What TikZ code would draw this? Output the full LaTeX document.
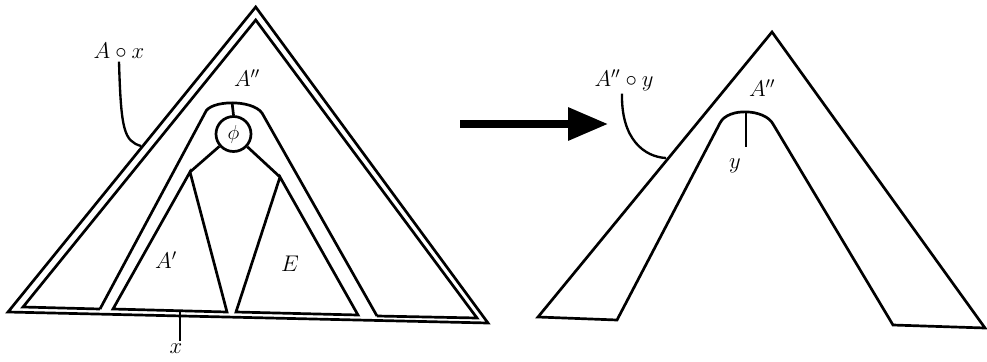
\documentclass[tikz,border=0pt]{standalone}
\usetikzlibrary{arrows.meta}

\begin{document}
\begin{tikzpicture}[
    x=0.03cm, y=-0.03cm,
    line width=2.3pt,
    lbl/.style={font=\LARGE, scale=1.12, inner sep=1pt},
    phinode/.style={draw, circle, minimum size=1.05cm, inner sep=0pt,
                    font=\LARGE},
    leader/.style={line width=2pt}
  ]
  \useasboundingbox (0,0) rectangle (987,361);

  % left tree: A o x
  \draw (8,312) -- (255.7,7) -- (488,323) -- cycle;
  \draw (100,309) -- (23,307) -- (255.7,20) -- (477,318) -- (377,316);
  \draw (100,309) -- (205,113) .. controls (209,100) and (252,99) .. (262,113)
    -- (377,316);
  \coordinate (top) at (232,102);
  \node[phinode] (phi) at (233.5,134) {$\phi$};
  \draw (top) -- (phi.north);

  \coordinate (aa) at (190,172);
  \coordinate (ea) at (280,177);
  \draw (113,309) -- (aa) -- (227,312) -- cycle;
  \draw (236,312) -- (ea) -- (358,315) -- cycle;
  \draw (phi) -- (aa);
  \draw (phi) -- (ea);

  \node[lbl] (lax) at (119,51) {$A\circ x$};
  \node[lbl] (lan) at (247,78) {$A''$};
  \node[lbl] (lap) at (166,260) {$A'$};
  \node[lbl] (le) at (290,264) {$E$};
  \node[lbl] (lx) at (176,349) {$x$};
  \coordinate (xt) at (180,312);
  \coordinate (ax) at (141,146);
  \draw[leader] (lax.south) .. controls (121,130) and (124,141) .. (ax);
  \draw[leader] (xt) -- (xt |- lx.north);

  % arrow
  \coordinate (arrS) at (460,124);
  \coordinate (arrE) at (608,124);
  \draw[line width=6pt, -{Triangle[length=34pt, width=27pt]}] (arrS) -- (arrE);

  % right tree: A'' o y
  \draw (617,320) -- (538,317) -- (772,32) -- (985,328) -- (893,325)
    -- (773,124) .. controls (765,109) and (728,107) .. (720,123) -- cycle;
  \coordinate (ty) at (746,112);
  \node[lbl] (lany) at (624,80) {$A''\circ y$};
  \node[lbl] (lan2) at (762,88) {$A''$};
  \node[lbl] (ly) at (735,166) {$y$};
  \coordinate (ay) at (666,158);
  \draw[leader] (lany.south -| 622,0) .. controls (621,140) and (645,157) .. (ay);
  \draw[leader] (ty) -- (746,147);
\end{tikzpicture}
\end{document}
